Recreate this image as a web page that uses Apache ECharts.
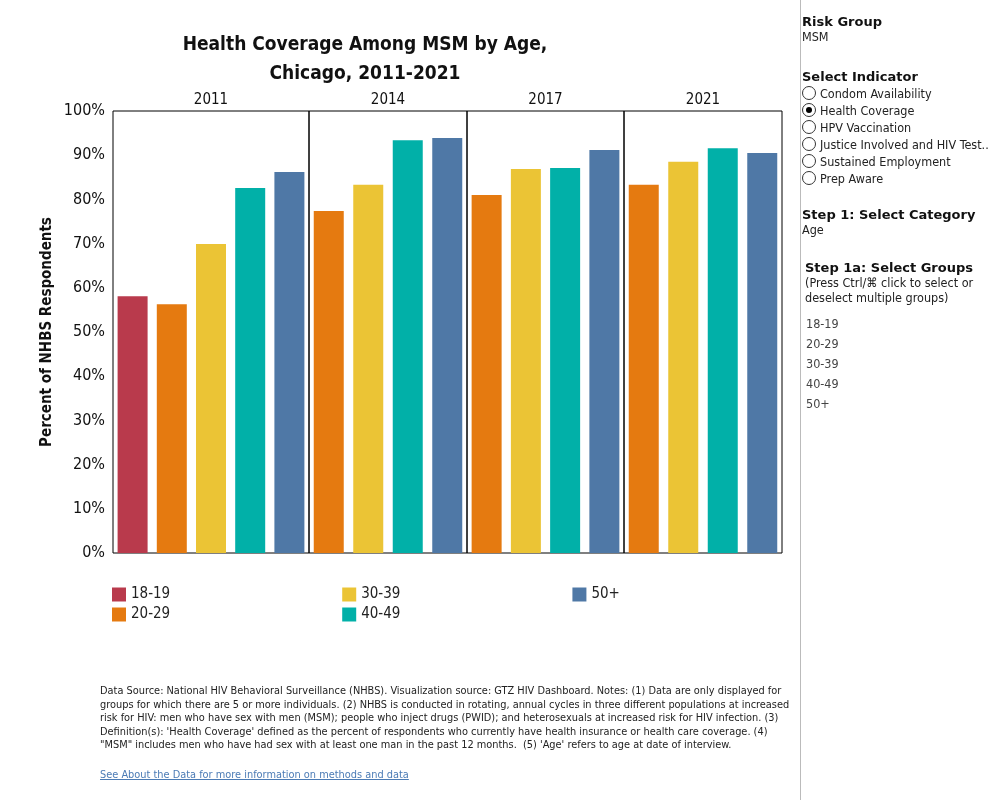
<!DOCTYPE html>
<html>
<head>
<meta charset="utf-8">
<script src="https://cdn.jsdelivr.net/npm/echarts@6/dist/echarts.min.js"></script>
<style>
  body { margin: 0; font-family: "DejaVu Sans Condensed", "DejaVu Sans", sans-serif; }
  #chart { position: absolute; left: 0; top: 0; width: 1000px; height: 800px; }
  .side { position: absolute; left: 802px; font-size: 12.5px; color: #222; }
  .side b { font-size: 13px; color: #111; font-family: "DejaVu Sans", sans-serif; }
  #sep { position: absolute; left: 800px; top: 0; width: 1px; height: 800px; background: #bbb; }
  .radio { display: inline-block; width: 12px; height: 12px; border: 1px solid #333; border-radius: 50%; vertical-align: -2px; margin-right: 4px; position: relative; }
  .radio.on::after { content: ""; position: absolute; left: 3px; top: 3px; width: 6px; height: 6px; border-radius: 50%; background: #000; }
  .grp { font-size: 12.5px; color: #444; line-height: 20px; }
  #note { position: absolute; left: 100px; top: 684px; width: 700px; font-size: 10.9px; line-height: 13.5px; color: #222; }
  #link { position: absolute; left: 100px; top: 768px; font-size: 10.9px; color: #4b7bb5; text-decoration: underline; }
</style>
</head>
<body>
<div id="chart"></div>
<div id="sep"></div>
<div class="side" style="top:14px"><b>Risk Group</b><br>MSM</div>
<div class="side" style="top:68px;line-height:17px"><b>Select Indicator</b><br>
  <span class="radio"></span>Condom Availability<br>
  <span class="radio on"></span>Health Coverage<br>
  <span class="radio"></span>HPV Vaccination<br>
  <span class="radio"></span>Justice Involved and HIV Test..<br>
  <span class="radio"></span>Sustained Employment<br>
  <span class="radio"></span>Prep Aware</div>
<div class="side" style="top:207px"><b>Step 1: Select Category</b><br>Age</div>
<div class="side" style="top:260px;left:805px"><b>Step 1a: Select Groups</b><br>(Press Ctrl/&#8984; click to select or<br>deselect multiple groups)</div>
<div class="side grp" style="top:314px;left:806px">18-19<br>20-29<br>30-39<br>40-49<br>50+</div>
<div id="note">Data Source: National HIV Behavioral Surveillance (NHBS). Visualization source: GTZ HIV Dashboard. Notes: (1) Data are only displayed for groups for which there are 5 or more individuals. (2) NHBS is conducted in rotating, annual cycles in three different populations at increased risk for HIV: men who have sex with men (MSM); people who inject drugs (PWID); and heterosexuals at increased risk for HIV infection. (3) Definition(s): 'Health Coverage' defined as the percent of respondents who currently have health insurance or health care coverage. (4) "MSM" includes men who have had sex with at least one man in the past 12 months.&nbsp; (5) 'Age' refers to age at date of interview.</div>
<div id="link">See About the Data for more information on methods and data</div>
<script>
var years = ['2011', '2014', '2017', '2021'];
var ageGroups = ['18-19', '20-29', '30-39', '40-49', '50+'];
var colors = ['#b93a4c', '#e57a10', '#ebc435', '#01b0a8', '#4f78a6'];
// values per year, in ageGroups order (null = not shown)
var v2011 = [58.1, 56.3, 69.9, 82.6, 86.2];
var v2014 = [null, 77.4, 83.3, 93.4, 93.9];
var v2017 = [null, 81.0, 86.9, 87.1, 91.2];
var v2021 = [null, 83.3, 88.5, 91.6, 90.5];
var yearValues = [v2011, v2014, v2017, v2021];
var yTicks = [0, 10, 20, 30, 40, 50, 60, 70, 80, 90, 100];

var panels = [[113, 196], [309, 158], [467, 157], [624, 158]];
var font = '"DejaVu Sans Condensed", sans-serif';

var grids = [], xAxes = [], yAxes = [], series = [];
yearValues.forEach(function (vals, g) {
  var cats = [];
  ageGroups.forEach(function (a, i) { if (vals[i] !== null) cats.push(a); });
  grids.push({ left: panels[g][0], width: panels[g][1], top: 111, height: 442,
    show: true, borderColor: '#000', borderWidth: 1 });
  xAxes.push({ type: 'category', gridIndex: g, data: cats, axisLabel: { show: false },
    axisTick: { show: false }, axisLine: { show: false } });
  xAxes.push({ type: 'category', gridIndex: g, position: 'top', data: [years[g]],
    axisTick: { show: false }, axisLine: { show: false },
    axisLabel: { fontFamily: font, fontSize: 15, color: '#111', margin: 3 } });
  yAxes.push({ type: 'value', gridIndex: g, min: yTicks[0], max: yTicks[yTicks.length - 1], interval: 10,
    splitLine: { show: false }, axisLine: { show: false }, axisTick: { show: false },
    axisLabel: { show: g === 0, formatter: '{value}%', fontFamily: font, fontSize: 16, color: '#111', margin: 8 },
    name: g === 0 ? 'Percent of NHBS Respondents' : '', nameLocation: 'middle', nameGap: 58, nameRotate: 90,
    nameTextStyle: { fontSize: 15, fontWeight: 'bold', color: '#111', fontFamily: font } });
  ageGroups.forEach(function (a, i) {
    if (vals[i] === null) return;
    series.push({ type: 'bar', name: a, xAxisIndex: g * 2, yAxisIndex: g, stack: 's' + g,
      barWidth: 30, itemStyle: { color: colors[i] },
      data: cats.map(function (c) { return c === a ? vals[i] : null; }) });
  });
});

var chart = echarts.init(document.getElementById('chart'));
var legendBase = { orient: 'horizontal', itemWidth: 14, itemHeight: 14, itemGap: 172, icon: 'rect',
  textStyle: { fontSize: 15, color: '#222', fontFamily: font }, selectedMode: false };
chart.setOption({
  animation: false,
  title: { text: 'Health Coverage Among MSM by Age,\nChicago, 2011-2021', left: 360, top: 26, textAlign: 'center',
    textStyle: { fontSize: 19, fontWeight: 'bold', color: '#111', lineHeight: 29, fontFamily: font } },
  legend: [
    Object.assign({ left: 107, top: 582, data: ['18-19', '30-39', '50+'] }, legendBase),
    Object.assign({ left: 107, top: 602, data: ['20-29', '40-49'] }, legendBase)
  ],
  grid: grids, xAxis: xAxes, yAxis: yAxes, series: series
});
</script>
</body>
</html>
